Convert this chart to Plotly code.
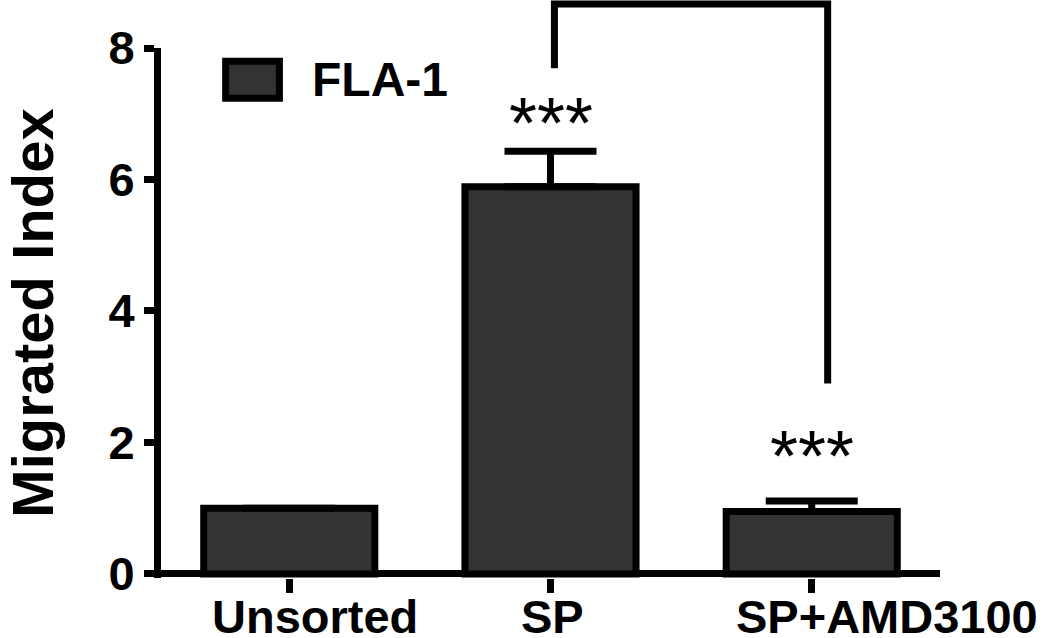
import plotly.graph_objects as go

groups = ['Unsorted', 'SP', 'SP+AMD3100']
migrated_index = [1.0, 5.89, 0.95]
sem = [0.0, 0.54, 0.16]
stars = ['', '***', '***']
y_ticks = [0, 2, 4, 6, 8]
series_name = 'FLA-1'

label_font = dict(family='Liberation Sans, Arial', size=47, color='black', weight='bold')

fig = go.Figure()
fig.add_trace(go.Bar(
    x=list(range(len(groups))), y=migrated_index, width=0.655,
    marker=dict(color='#333333', line=dict(color='black', width=7)),
    error_y=dict(type='data', array=sem, arrayminus=[0] * len(sem), symmetric=False,
                 color='black', thickness=7, width=46),
    name=series_name, showlegend=False,
))

# significance stars above the error bars
star_gap = [0, 0.43, 0.69]
for i, s in enumerate(stars):
    if s:
        fig.add_annotation(x=i, y=migrated_index[i] + sem[i] + star_gap[i], text=s, showarrow=False,
                           font=dict(family='Liberation Sans, Arial', size=72, color='black'),
                           yanchor='middle')

# category labels (offset as in the original figure)
label_shift = [26, 2, 75]
for i, g in enumerate(groups):
    fig.add_annotation(x=i, y=-0.072, yref='paper', text=g, showarrow=False, xshift=label_shift[i],
                       font=label_font, yanchor='middle')

# comparison bracket SP vs SP+AMD3100
fig.add_shape(type='path', xref='x', yref='paper',
              path='M 1.015,0.962 L 1.015,1.083 L 2.061,1.083 L 2.061,0.367',
              line=dict(color='black', width=7))

# hand drawn legend
fig.add_shape(type='rect', xref='paper', yref='paper', x0=0.083, x1=0.152, y0=0.905, y1=0.975,
              fillcolor='#333333', line=dict(color='black', width=7))
fig.add_annotation(x=0.191, y=0.94, xref='paper', yref='paper', text=series_name, showarrow=False,
                   xanchor='left', yanchor='middle', font=dict(family='Liberation Sans, Arial', size=48,
                                                               color='black', weight='bold'))

fig.update_xaxes(range=[-0.491, 2.491], showline=False, showgrid=False, zeroline=False,
                 tickvals=list(range(len(groups))), showticklabels=False,
                 ticks='outside', ticklen=14, tickwidth=7, tickcolor='black')
fig.update_yaxes(range=[-0.061, 8], showline=True, linewidth=7, linecolor='black',
                 showgrid=False, zeroline=True, zerolinewidth=7, zerolinecolor='black',
                 tickvals=y_ticks, ticks='outside', ticklen=10, tickwidth=7, tickcolor='black',
                 tickfont=label_font,
                 title=dict(text='Migrated Index', font=dict(family='Liberation Sans, Arial', size=58,
                                                             color='black', weight='bold'), standoff=56))
fig.update_layout(width=1050, height=638, plot_bgcolor='white', paper_bgcolor='white',
                  margin=dict(l=157, r=110, t=48, b=60), showlegend=False)

# drop the default body margin so the figure fills the window
fig.write_html('out.html', config={'displayModeBar': False},
               post_script="document.body.style.margin='0';")
